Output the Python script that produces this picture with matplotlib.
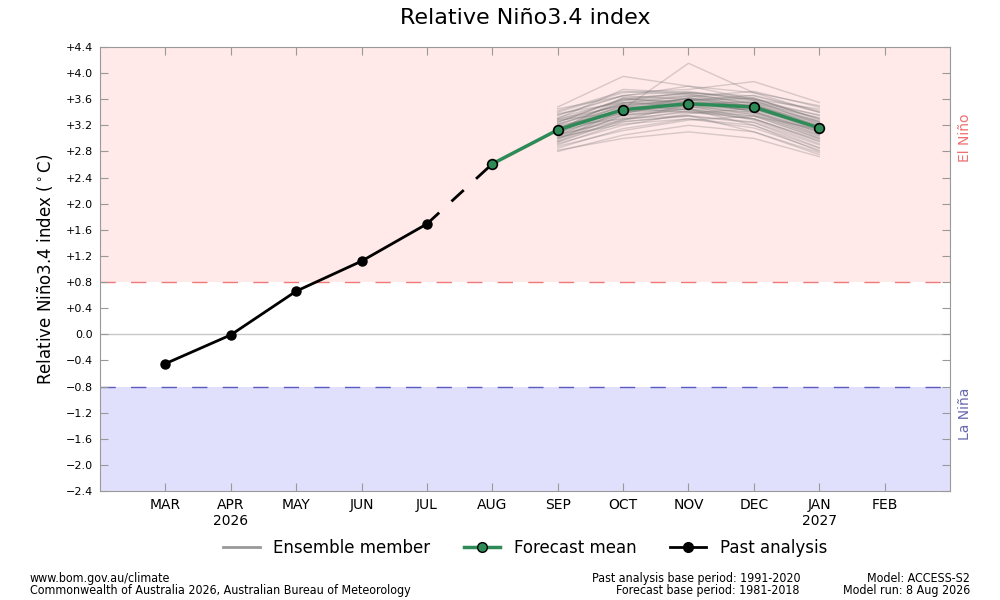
import numpy as np
import matplotlib
matplotlib.use("Agg")
import matplotlib.pyplot as plt
from matplotlib.lines import Line2D
from matplotlib import font_manager

# month axis, MAR 2026 .. FEB 2027
months = ["MAR", "APR\n2026", "MAY", "JUN", "JUL", "AUG", "SEP", "OCT", "NOV", "DEC", "JAN\n2027", "FEB"]

past_months = ["MAR", "APR", "MAY", "JUN", "JUL"]
past_values = [-0.45, -0.01, 0.66, 1.12, 1.69]

fc_months = ["AUG", "SEP", "OCT", "NOV", "DEC", "JAN"]
fc_mean = [2.61, 3.13, 3.44, 3.53, 3.48, 3.16]

# ensemble members for SEP, OCT, NOV, DEC, JAN
ens_months = ["SEP", "OCT", "NOV", "DEC", "JAN"]
ensemble_members = [
    [3.48, 3.95, 3.80, 3.60, 3.35],
    [3.05, 3.45, 4.15, 3.70, 3.40],
    [3.40, 3.70, 3.75, 3.87, 3.55],
    [3.30, 3.75, 3.70, 3.60, 3.45],
    [3.35, 3.65, 3.80, 3.70, 3.50],
    [3.25, 3.60, 3.70, 3.65, 3.40],
    [3.20, 3.55, 3.65, 3.60, 3.30],
    [3.15, 3.50, 3.60, 3.55, 3.25],
    [3.10, 3.45, 3.55, 3.50, 3.20],
    [3.05, 3.40, 3.50, 3.45, 3.10],
    [3.00, 3.35, 3.45, 3.40, 3.05],
    [2.95, 3.30, 3.40, 3.35, 3.00],
    [2.90, 3.25, 3.35, 3.25, 2.90],
    [2.85, 3.15, 3.30, 3.20, 2.85],
    [2.80, 3.05, 3.20, 3.10, 2.75],
    [2.82, 3.00, 3.10, 3.00, 2.72],
    [3.45, 3.65, 3.60, 3.40, 3.10],
    [3.38, 3.55, 3.50, 3.30, 2.95],
    [3.28, 3.40, 3.45, 3.20, 2.80],
    [3.18, 3.30, 3.35, 3.10, 2.78],
    [3.12, 3.62, 3.68, 3.52, 3.15],
    [3.08, 3.52, 3.58, 3.62, 3.28],
    [3.22, 3.48, 3.62, 3.58, 3.22],
    [3.16, 3.42, 3.48, 3.44, 3.18],
    [3.02, 3.38, 3.56, 3.54, 3.32],
    [2.98, 3.44, 3.62, 3.50, 3.24],
    [3.26, 3.52, 3.54, 3.42, 3.08],
    [3.32, 3.58, 3.66, 3.48, 3.12],
    [3.10, 3.36, 3.42, 3.38, 3.02],
    [2.92, 3.20, 3.38, 3.46, 3.20],
    [3.06, 3.28, 3.52, 3.56, 3.36],
    [3.14, 3.46, 3.40, 3.30, 2.98],
    [3.20, 3.38, 3.58, 3.66, 3.42],
    [3.24, 3.62, 3.52, 3.36, 3.04],
    [2.88, 3.12, 3.28, 3.34, 3.14],
    [3.04, 3.32, 3.46, 3.28, 2.92],
    [3.36, 3.66, 3.72, 3.58, 3.26],
    [3.12, 3.54, 3.64, 3.72, 3.48],
    [3.00, 3.26, 3.34, 3.24, 2.86],
    [3.18, 3.44, 3.50, 3.52, 3.26],
    [3.42, 3.72, 3.68, 3.54, 3.18],
    [2.96, 3.36, 3.48, 3.40, 3.06],
    [3.08, 3.40, 3.62, 3.46, 3.12],
    [3.30, 3.50, 3.44, 3.34, 3.00],
    [3.14, 3.58, 3.70, 3.62, 3.30],
    [3.02, 3.22, 3.30, 3.16, 2.82],
    [3.22, 3.54, 3.60, 3.48, 3.16],
    [3.10, 3.48, 3.56, 3.42, 3.10],
    [2.94, 3.28, 3.42, 3.30, 2.96],
    [3.28, 3.60, 3.56, 3.50, 3.22],
]

threshold = 0.8
yticks = np.round(np.arange(-2.4, 4.41, 0.4), 1)

short = [m.split("\n")[0] for m in months]
idx = {m: i for i, m in enumerate(short)}

# footer uses a condensed face if one is installed
foot_fp = None
for f in font_manager.fontManager.ttflist:
    if f.name == "DejaVu Sans" and "ondensed" in f.fname and f.weight in (400, "normal") \
            and f.style == "normal":
        foot_fp = font_manager.FontProperties(fname=f.fname, size=8.9)
        break
if foot_fp is None:
    names = {f.name for f in font_manager.fontManager.ttflist}
    if "Liberation Sans Narrow" in names:
        foot_fp = font_manager.FontProperties(family="Liberation Sans Narrow", size=9.5)
    else:
        foot_fp = font_manager.FontProperties(family="DejaVu Sans", size=8)

fig = plt.figure(figsize=(10, 6), dpi=100)
ax = fig.add_axes([0.1, 0.1817, 0.85, 0.74])

ax.set_xlim(-1, 12)
ax.set_ylim(-2.4, 4.4)

# phase shading
ax.axhspan(threshold, 4.4, color="#ffe9e9", zorder=0, lw=0)
ax.axhspan(-2.4, -threshold, color="#e0e0fc", zorder=0, lw=0)
ax.axhline(threshold, color="#f07878", lw=1, dashes=(11, 11), zorder=1)
ax.axhline(-threshold, color="#5a5ac0", lw=1, dashes=(11, 11), zorder=1)
ax.axhline(0, color="#c8c8c8", lw=1, zorder=1)

ex = [idx[m] for m in ens_months]
for member in ensemble_members:
    ax.plot(ex, member, color="#707070", alpha=0.28, lw=1, zorder=2)

fx = [idx[m] for m in fc_months]
ax.plot(fx, fc_mean, color="#2e8b57", lw=2.5, marker="o", ms=7,
        mfc="#2e8b57", mec="black", mew=1.2, zorder=4)

px = [idx[m] for m in past_months]
ax.plot(px, past_values, color="black", lw=2, marker="o", ms=6.5, zorder=4)
# dashed link from last analysis to first forecast
ax.plot([px[-1], fx[0]], [past_values[-1], fc_mean[0]], color="black",
        lw=2, dashes=(6, 6), zorder=3)

ax.set_xticks(range(12))
ax.set_xticklabels(months, fontsize=10)
ax.set_yticks(yticks)
ylabels = []
for v in yticks:
    if v > 0:
        ylabels.append("+%.1f" % v)
    elif v == 0:
        ylabels.append("0.0")
    else:
        ylabels.append("\u2212%.1f" % abs(v))
ax.set_yticklabels(ylabels, fontsize=8)
ax.tick_params(direction="in", length=6, color="#999999", top=True, right=True, pad=5)
for s in ax.spines.values():
    s.set_color("#999999")

ax.set_ylabel("Relative Niño3.4 index ($^\\circ$C)", fontsize=12, labelpad=8)
fig.text(0.525, 0.97, "Relative Niño3.4 index", ha="center", va="center", fontsize=16)

ax.text(1.018, 0.795, "El Niño", transform=ax.transAxes, rotation=90,
        ha="center", va="center", color="#f07070", fontsize=10)
ax.text(1.018, 0.173, "La Niña", transform=ax.transAxes, rotation=90,
        ha="center", va="center", color="#6868b0", fontsize=10)

handles = [
    Line2D([], [], color="#999999", lw=2),
    Line2D([], [], color="#2e8b57", lw=2.5, marker="o", ms=7, mfc="#2e8b57", mec="black"),
    Line2D([], [], color="black", lw=2, marker="o", ms=7),
]
fig.legend(handles, ["Ensemble member", "Forecast mean", "Past analysis"],
           loc="center", bbox_to_anchor=(0.525, 0.087), ncol=3, frameon=False,
           fontsize=12, handlelength=2.2, columnspacing=2.0)

fig.text(0.03, 0.036, "www.bom.gov.au/climate", ha="left", va="center", fontproperties=foot_fp)
fig.text(0.03, 0.016, "Commonwealth of Australia 2026, Australian Bureau of Meteorology",
         ha="left", va="center", fontproperties=foot_fp)
fig.text(0.80, 0.036, "Past analysis base period: 1991-2020", ha="right", va="center",
         fontproperties=foot_fp)
fig.text(0.80, 0.016, "Forecast base period: 1981-2018", ha="right", va="center",
         fontproperties=foot_fp)
fig.text(0.97, 0.036, "Model: ACCESS-S2", ha="right", va="center", fontproperties=foot_fp)
fig.text(0.97, 0.016, "Model run: 8 Aug 2026", ha="right", va="center", fontproperties=foot_fp)

fig.savefig("out.png", dpi=100)
